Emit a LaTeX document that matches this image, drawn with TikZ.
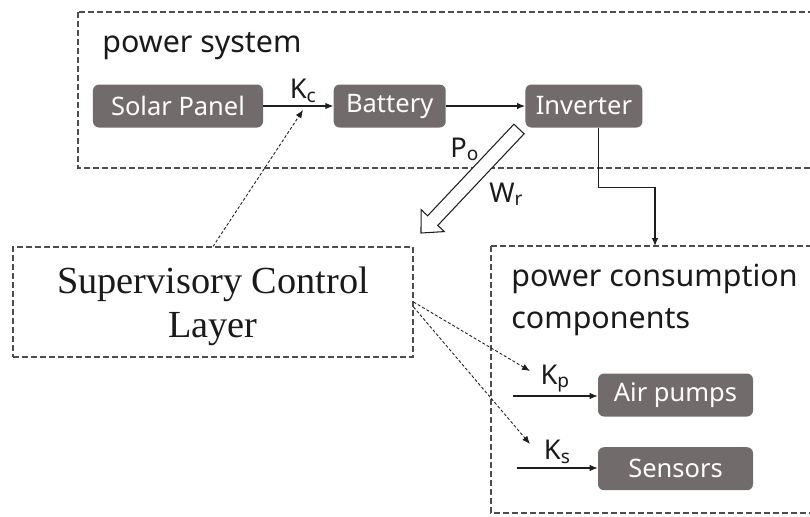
\documentclass[tikz,border=0pt]{standalone}
\usepackage{fontspec}
\setmainfont{Noto Sans}
\newfontfamily\serifface{Liberation Serif}
\usepackage{xcolor}
\definecolor{cBox}{HTML}{726B6B}
\definecolor{cLine}{HTML}{1E1E1E}
\definecolor{cDash}{HTML}{4D4D4D}
\definecolor{cText}{HTML}{1A1A1A}
\usetikzlibrary{positioning,arrows.meta,calc}
\tikzset{
  unit-box/.style={fill=cBox,rounded corners=1.2mm,minimum height=8.6mm,
    inner sep=0pt,text=white,font=\fontsize{14.5}{17}\selectfont},
  group-box/.style={draw=cDash,line width=0.6pt,dash pattern=on 1.2mm off 0.6mm},
  arrow/.style={-{Latex[length=1.6mm,width=1.3mm]},line width=0.6pt,draw=cLine},
  arrow-ctrl/.style={-{Latex[length=1.6mm,width=1.3mm]},line width=0.5pt,
    draw=cLine,dash pattern=on 0.6mm off 0.4mm},
  gain/.style={font=\fontsize{15.5}{17}\selectfont,text=cText,inner sep=0pt},
  title/.style={font=\fontsize{17.3}{23.4}\selectfont,text=cText,align=left,inner sep=0pt},
}

\begin{document}
\begin{tikzpicture}[x=0.2mm,y=-0.2mm]
  \useasboundingbox (0,0) rectangle (810,517);
  \clip (0,0) rectangle (810,517);
  % groups
  \draw[group-box] (78,12) rectangle (830,168);
  \draw[group-box] (491,246) rectangle (830,513);
  \node[title,anchor=base west] (psTitle) at (102,52) {power system};
  \node[title,anchor=base west] (pcTitle) at (511,328) {power consumption\\components};
  \node[group-box,minimum width=80mm,minimum height=22mm,align=center,text depth=0pt,
    font=\serifface\fontsize{21.8}{25}\selectfont,text=cText] (scl) at (213,302)
    {Supervisory Control\\Layer};
  % power system
  \node[unit-box,minimum width=34mm] (solar) at (178,106) {Solar Panel};
  \node[unit-box,minimum width=22.4mm,right=14mm of solar] (battery) {Battery};
  \node[unit-box,minimum width=23.4mm,right=15.8mm of battery] (inverter) {Inverter};
  \draw[arrow] (solar) -- node[gain,pos=0.57,above=0.6mm] (kc) {K\textsubscript{c}} (battery);
  \draw[arrow] (battery) -- (inverter);
  % consumers
  \node[unit-box,minimum width=31mm] (pumps) at (675.5,395) {Air pumps};
  \node[unit-box,minimum width=31mm,below=6mm of pumps] (sensors) {Sensors};
  \coordinate (pumpIn) at (513,396);
  \coordinate (sensIn) at (517,468);
  \draw[arrow] (pumpIn) -- node[gain,above=0.6mm] (kp) {K\textsubscript{p}} (pumps.west |- pumpIn);
  \draw[arrow] (sensIn) -- node[gain,above=0.8mm] (ks) {K\textsubscript{s}} (sensors.west |- sensIn);
  \coordinate (consIn) at (655,246);
  \draw[arrow] ([xshift=3mm]inverter.south) -- ++(0,60) -| (consIn);
  % control signals
  \coordinate (kcIn) at (303,110);
  \coordinate (kpIn) at (530,371);
  \coordinate (ksIn) at (530,444);
  \draw[arrow-ctrl] (scl.north) -- (kcIn);
  \draw[arrow-ctrl] (scl.east) -- (kpIn);
  \draw[arrow-ctrl] ([yshift=-1mm]scl.east) -- (ksIn);
  % power flow to the supervisory layer
  \draw[line width=0.6pt,draw=cLine,fill=white]
    (513.9,124.2) -- (427.6,215.8) -- (421.1,209.6) -- (421,233)
    -- (444.3,231.6) -- (437.8,225.4) -- (524.1,133.8) -- cycle;
  \node[gain,anchor=base west] (po) at (450,157) {P\textsubscript{o}};
  \node[gain,anchor=base west] (wr) at (489,202) {W\textsubscript{r}};
\end{tikzpicture}
\end{document}
